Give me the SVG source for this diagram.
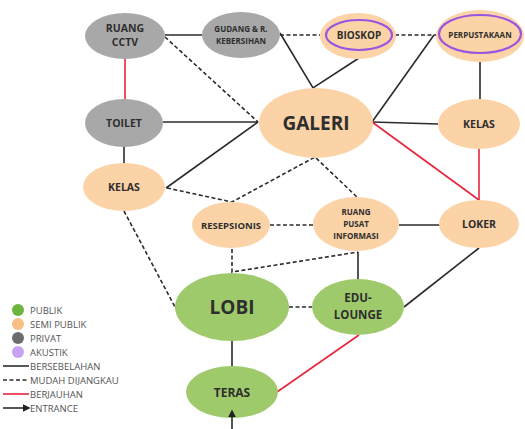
<svg xmlns="http://www.w3.org/2000/svg" width="525" height="429" viewBox="0 0 525 429">
<style>
.s{stroke:#2b2b2b;stroke-width:1.6;fill:none}
.d{stroke:#2b2b2b;stroke-width:1.6;fill:none;stroke-dasharray:4 2.5}
.r{stroke:#e8243c;stroke-width:1.6;fill:none}
.pub{fill:#9fca6b}
.semi{fill:#fbd3a6}
.priv{fill:#a8a8a8}
.ak{fill:none;stroke:#9a55e0;stroke-width:2.2}
text{font-family:"Open Sans","DejaVu Sans",sans-serif;font-weight:700;fill:#2e2e2e;text-anchor:middle}
.lg{font-weight:400;fill:#555;text-anchor:start;font-size:9.5px}
</style>
<defs>
<marker id="ah" viewBox="0 0 10 10" refX="8" refY="5" markerWidth="5" markerHeight="5" orient="auto"><path d="M0,0 L10,5 L0,10 z" fill="#222"/></marker>
</defs>
<rect width="525" height="429" fill="#fff"/>
<g id="connectors">
<line class="s" x1="165" y1="35" x2="202" y2="35"/>
<line class="r" x1="125" y1="58" x2="125" y2="99"/>
<line class="d" x1="165" y1="37" x2="258" y2="122"/>
<line class="s" x1="163" y1="122" x2="258" y2="122"/>
<line class="s" x1="166" y1="188" x2="258" y2="122"/>
<line class="s" x1="124" y1="147" x2="124" y2="163"/>
<polyline class="d" points="167,188 232,202 315,157 358,198"/>
<line class="d" x1="280" y1="35" x2="320" y2="35"/>
<polyline class="s" points="280,33 313,88 359,58"/>
<line class="d" x1="395" y1="35" x2="436" y2="35"/>
<line class="s" x1="372" y1="122" x2="434" y2="35"/>
<line class="s" x1="372" y1="122" x2="438" y2="124"/>
<line class="s" x1="480" y1="62" x2="480" y2="99"/>
<line class="r" x1="372" y1="122" x2="479" y2="200"/>
<line class="r" x1="479" y1="148" x2="479" y2="200"/>
<line class="d" x1="270" y1="225" x2="313" y2="225"/>
<line class="s" x1="399" y1="225" x2="440" y2="225"/>
<polyline class="d" points="232,249 232,272 358,252"/>
<line class="s" x1="358" y1="252" x2="358" y2="280"/>
<line class="s" x1="479" y1="248" x2="404" y2="307"/>
<line class="d" x1="289" y1="307" x2="312" y2="307"/>
<line class="r" x1="359" y1="335" x2="277" y2="392"/>
<line class="s" x1="232" y1="341" x2="232" y2="367"/>
<line class="d" x1="124" y1="211" x2="175" y2="307"/>
</g>
<g id="ruang-cctv"><ellipse class="priv" cx="125" cy="36" rx="40" ry="23"/><text x="125" y="32" font-size="10.5">RUANG</text><text x="125" y="46" font-size="10.5">CCTV</text></g>
<g id="gudang"><ellipse class="priv" cx="241" cy="35" rx="39" ry="23"/><text x="241" y="32" font-size="8">GUDANG &amp; R.</text><text x="241" y="44" font-size="8">KEBERSIHAN</text></g>
<g id="bioskop"><ellipse class="semi" cx="358" cy="36" rx="38" ry="23"/><ellipse class="ak" cx="359" cy="35" rx="33" ry="15"/><text x="359" y="39" font-size="10">BIOSKOP</text></g>
<g id="perpustakaan"><ellipse class="semi" cx="480" cy="36" rx="44" ry="26"/><ellipse class="ak" cx="480" cy="34" rx="41" ry="19"/><text x="480" y="38" font-size="8">PERPUSTAKAAN</text></g>
<g id="galeri"><ellipse class="semi" cx="316" cy="123" rx="57" ry="35"/><text x="316" y="130" font-size="19">GALERI</text></g>
<g id="kelas-kanan"><ellipse class="semi" cx="479" cy="124" rx="41" ry="25"/><text x="479" y="128" font-size="10.5">KELAS</text></g>
<g id="toilet"><ellipse class="priv" cx="124" cy="123" rx="39" ry="24"/><text x="124" y="127" font-size="10.5">TOILET</text></g>
<g id="kelas-kiri"><ellipse class="semi" cx="124" cy="187" rx="41" ry="24"/><text x="124" y="191" font-size="10.5">KELAS</text></g>
<g id="resepsionis"><ellipse class="semi" cx="231" cy="225" rx="39" ry="23"/><text x="231" y="229" font-size="9.5">RESEPSIONIS</text></g>
<g id="ruang-pusat-informasi"><ellipse class="semi" cx="356" cy="224" rx="43" ry="27"/><text x="356" y="215" font-size="8">RUANG</text><text x="356" y="227" font-size="8">PUSAT</text><text x="356" y="239" font-size="8">INFORMASI</text></g>
<g id="loker"><ellipse class="semi" cx="479" cy="224" rx="40" ry="24"/><text x="479" y="228" font-size="10.5">LOKER</text></g>
<g id="lobi"><ellipse class="pub" cx="232" cy="307" rx="57" ry="34"/><text x="232" y="314" font-size="19">LOBI</text></g>
<g id="edu-lounge"><ellipse class="pub" cx="358" cy="307" rx="46" ry="28"/><text x="358" y="302" font-size="11.5">EDU-</text><text x="358" y="319" font-size="11.5">LOUNGE</text></g>
<g id="teras"><ellipse class="pub" cx="232" cy="392" rx="46" ry="26"/><text x="232" y="397" font-size="12">TERAS</text></g>
<g id="entrance"><line class="s" x1="232" y1="429" x2="232" y2="411" marker-end="url(#ah)"/></g>
<g id="legend">
<circle cx="18" cy="310" r="6" fill="#6cb43c"/><text class="lg" x="30" y="313.5">PUBLIK</text>
<circle cx="18" cy="324" r="6" fill="#f8be82"/><text class="lg" x="30" y="327.5">SEMI PUBLIK</text>
<circle cx="18" cy="338" r="6" fill="#6c6c6c"/><text class="lg" x="30" y="341.5">PRIVAT</text>
<circle cx="18" cy="352" r="6" fill="#c6a3f0"/><text class="lg" x="30" y="355.5">AKUSTIK</text>
<line class="s" x1="3" y1="366" x2="29" y2="366"/><text class="lg" x="30" y="369.5">BERSEBELAHAN</text>
<line class="d" x1="3" y1="380" x2="29" y2="380"/><text class="lg" x="30" y="383.5">MUDAH DIJANGKAU</text>
<line class="r" x1="3" y1="394" x2="29" y2="394"/><text class="lg" x="30" y="397.5">BERJAUHAN</text>
<line class="s" x1="3" y1="408" x2="29" y2="408" marker-end="url(#ah)"/><text class="lg" x="30" y="411.5">ENTRANCE</text>
</g>
</svg>
